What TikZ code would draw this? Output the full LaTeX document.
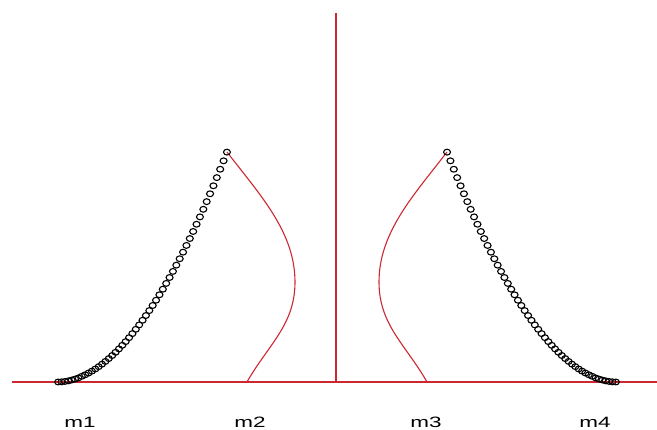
\documentclass[tikz,border=0pt]{standalone}
\usepackage{fontspec}
\setmainfont{Liberation Sans}
\usetikzlibrary{plotmarks}
\definecolor{axisred}{RGB}{205,40,50}
\tikzset{
  axisline/.style={draw=axisred, line width=1.4pt},
  fitcurve/.style={draw=axisred, line width=1.1pt},
  datapts/.style={only marks, mark=o, mark size=2.9pt, mark options={black, line width=1.1pt, xscale=1.2}},
  lab/.style={anchor=base, font=\fontsize{15}{15}\selectfont, xscale=1.5, inner sep=0pt}
}
\begin{document}
\begin{tikzpicture}[x=1pt,y=-1pt]
\useasboundingbox (0,0) rectangle (657,430);
\coordinate (bl) at (12,382);
\coordinate (br) at (657,382);
\coordinate (vt) at (336,13);
\coordinate (vb) at (336,382);
\coordinate (ltop) at (227,152);
\coordinate (lmid) at (295,282);
\coordinate (lbot) at (247,382);
\coordinate (rtop) at (447,152);
\coordinate (rmid) at (379,282);
\coordinate (rbot) at (427,382);
\draw[axisline] (bl) -- (br);
\draw[axisline] (vt) -- (vb);
% fitted curves
\draw[fitcurve] (ltop) .. controls (260,195) and (295,232) .. (lmid) .. controls (295,325) and (268,345) .. (lbot);
\draw[fitcurve] (rtop) .. controls (414,195) and (379,232) .. (rmid) .. controls (379,325) and (406,345) .. (rbot);
% data points
\path plot[datapts, domain=0.001:1, samples=51] ({58+169*\x},{382-230*(\x)^1.9});
\path plot[datapts, domain=0.001:1, samples=51] ({616-169*\x},{382-230*(\x)^1.9});
\node[lab] (m1) at (80,428) {m1};
\node[lab] (m2) at (250,428) {m2};
\node[lab] (m3) at (426,428) {m3};
\node[lab] (m4) at (595,428) {m4};
\end{tikzpicture}
\end{document}
